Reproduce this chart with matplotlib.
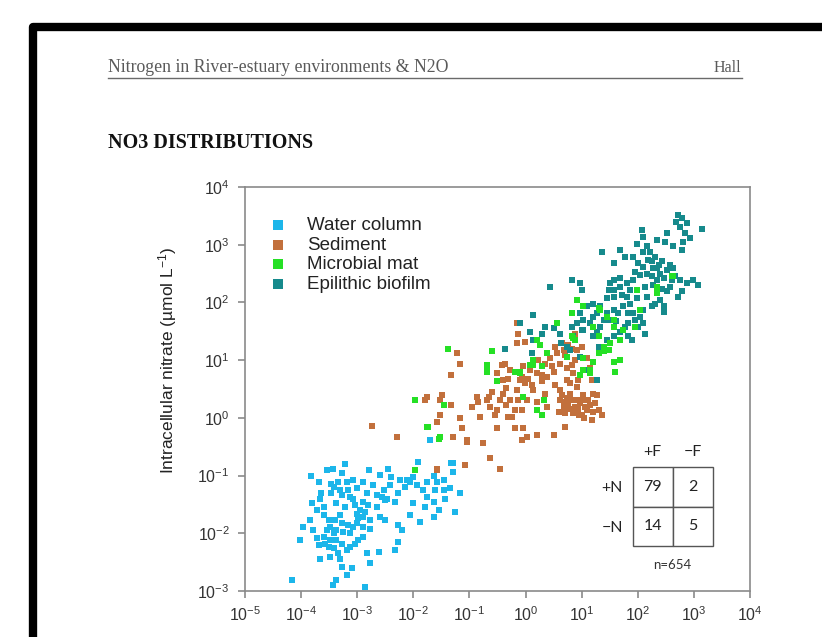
import numpy as np
import matplotlib.pyplot as plt
from matplotlib.patches import Rectangle
from matplotlib.lines import Line2D
from matplotlib.ticker import NullLocator

plt.rcParams['font.family'] = ['Liberation Sans', 'DejaVu Sans']
plt.rcParams['mathtext.default'] = 'regular'

# values, stored as log10 of the axis values
water_logx = [-3.22, -3.43, -3.53, -2.79, -2.46, -3.83, -3.28, -3.07, -2.89, -2.59,
              -2.39, -2.24, -2.12, -1.91, -1.64, -1.46, -1.30, -1.30, -1.17, -3.69,
              -3.46, -3.34, -3.19, -3.01, -2.83, -2.71, -2.56, -2.50, -2.33, -2.06,
              -1.94, -1.82, -1.61, -1.46, -1.35, -3.65, -3.46, -3.31, -3.13, -3.04,
              -2.89, -2.80, -2.65, -2.47, -3.66, -3.37, -3.22, -3.01, -2.89, -2.77,
              -2.59, -2.50, -2.27, -2.21, -2.00, -1.76, -1.79, -1.64, -1.55, -1.43,
              -1.26, -1.64, -2.06, -1.88, -3.84, -3.60, -3.51, -3.40, -3.48, -3.37,
              -3.25, -3.13, -3.01, -2.89, -2.77, -3.78, -3.72, -3.60, -3.48, -3.37,
              -3.28, -3.13, -2.98, -4.02, -3.69, -3.51, -3.34, -3.19, -3.66, -3.48,
              -3.31, -3.28, -3.10, -2.83, -2.62, -2.77, -2.33, -2.27, -3.19, -3.37,
              -3.43, -4.17, -2.86, -3.96, -1.70, -1.32,
              -3.42, -3.28, -3.16, -3.07, -2.95, -2.86, -2.98, -3.07, -3.16, -3.28,
              -3.42, -3.54, -3.57, -3.42, -3.04, -2.89, -2.65, -2.53, -2.41, -2.27,
              -2.15, -2.00, -1.76, -1.58, -3.72, -3.81, -3.60, -3.31]
water_logy = [-0.80, -0.89, -0.90, -0.90, -0.88, -1.01, -0.96, -1.07, -1.11, -0.99,
              -1.02, -1.08, -1.07, -0.76, -1.01, -1.07, -0.79, -0.93, -1.30, -1.12,
              -1.14, -1.11, -1.12, -1.22, -1.31, -1.16, -1.37, -1.42, -1.45, -1.11,
              -1.16, -1.25, -1.25, -1.25, -1.22, -1.31, -1.31, -1.25, -1.37, -1.51,
              -1.45, -1.51, -1.34, -1.40, -1.40, -1.48, -1.54, -1.66, -1.71, -1.77,
              -1.71, -1.77, -1.86, -1.94, -1.48, -1.37, -1.54, -1.45, -1.60, -1.40,
              -1.63, -1.71, -1.68, -1.80, -1.77, -1.68, -1.77, -1.77, -1.89, -1.94,
              -1.97, -2.00, -1.83, -1.89, -1.92, -1.94, -2.09, -2.06, -2.12, -2.12,
              -2.18, -2.23, -2.12, -2.12, -2.20, -2.23, -2.35, -2.29, -2.44, -2.41,
              -2.44, -2.58, -2.61, -2.35, -2.32, -2.52, -2.29, -2.15, -2.72, -2.81,
              -2.90, -2.81, -2.93, -1.89, -0.38, -0.79,
              -1.19, -1.34, -1.25, -1.40, -1.60, -1.63, -1.74, -1.89, -1.86, -1.83,
              -2.00, -1.94, -2.18, -2.26, -2.18, -2.06, -1.54, -1.25, -1.16, -1.31,
              -1.19, -1.02, -1.11, -1.11, -1.60, -1.48, -1.54, -1.68]

sediment_logx = [-2.30, -1.79, -1.49, -1.52, -1.58, -1.32, -1.17, -1.23, -1.32, -1.17,
                 -1.14, -1.29, -1.05, -0.96, -0.87, -0.75, -0.69, -0.63, -0.54, -0.51,
                 -0.63, -0.45, -1.08, -1.58, -0.42, -0.40, -0.34, -0.34, -0.31, -0.25,
                 -0.19, -0.16, -0.10, -0.19, -0.04, -0.07, 0.02, 0.20, -0.07, 0.02,
                 -0.04, -0.16, -0.13, -0.16, -0.01, 0.05, 0.14, 0.20, 0.29, 0.35,
                 0.38, 0.50, 0.38, 0.50, 0.53, 0.62, 0.62, 0.68, 0.70, 0.76,
                 0.82, 0.88, 0.91, 0.97, 1.03, 1.09, 1.15, 0.70, 0.82, 0.70,
                 0.68, 0.82, 0.88, 1.00, 1.09, 1.15, 1.18, 1.21, 1.27, 1.36,
                 1.18, 0.91, 0.85, 0.73, 0.56, 0.47, 0.35, 0.20, 0.08, -0.31,
                 -0.51, -0.40, -0.60, -0.84, -1.52, -1.76, -2.74, -1.58, -1.08, -1.05,
                 1.05, 0.95, 1.20, 0.60, 0.80,
                 0.65, 0.73, 0.79, 0.85, 0.94, 1.00, 1.06, 1.12, 0.79, 0.68,
                 0.59, 1.03, 1.24, 1.30, 0.91, 0.53, 0.65, 0.76, 0.91, 0.44,
                 0.62, 0.73, 0.88, 0.94, 0.79, 0.29, 0.23, -0.37, -0.28, -0.07,
                 -0.01, 0.11, -0.28, -0.13, -0.45, -0.51, -0.66, -0.81]
sediment_logy = [-0.33, 0.31, 0.39, 0.05, -0.07, 0.22, 0.94, 1.12, 0.74, -0.01,
                 -0.18, -0.33, -0.38, 0.19, 0.37, -0.44, 0.31, 0.19, 0.05, -0.18,
                 -0.70, -0.88, -0.82, -0.90, 0.92, 0.66, 0.51, 0.22, 0.02, 0.02,
                 0.14, 0.48, 0.66, -0.18, -0.18, -0.38, -0.33, -0.30, 0.14, 0.31,
                 0.89, 1.64, 1.46, 1.29, 1.32, 0.68, 0.48, 0.28, 0.63, 0.42,
                 0.19, -0.30, 0.71, 0.80, 0.57, 0.48, 0.31, 0.19, 0.08, 0.25,
                 0.31, 0.19, 0.11, 0.25, 0.31, 0.14, 0.22, -0.15, 0.92, 1.09,
                 1.18, 1.20, 1.46, 1.23, 1.03, 0.86, 0.66, 0.42, 0.40, 0.05,
                 -0.04, 0.54, 0.77, 0.66, 1.12, 0.89, 0.94, 0.77, 0.83, 0.68,
                 0.77, 0.42, 0.45, 0.28, 0.31, 0.37, -0.14, -0.89, -0.82, -0.41,
                 0.00, 0.05, 0.10, 0.10, 0.40,
                 0.40, 0.34, 0.16, 0.08, 0.16, 0.05, 0.19, 0.31, 0.42, 0.28,
                 0.11, 0.40, 0.25, 0.14, 0.31, 1.23, 1.29, 1.26, 1.18, 1.03,
                 0.94, 0.86, 1.00, 0.66, 0.60, 0.74, 1.00, 0.94, 0.83, 0.71,
                 0.60, 0.57, 0.31, 0.31, 0.31, 0.14, 0.37, 0.02]

mat_logx = [-1.38, -1.97, -1.46, -1.76, -1.52, -0.60, -0.69, -0.69, -0.51, -0.19,
            -0.10, -0.04, 0.14, 0.14, 0.29, 0.20, 0.32, 0.29, 0.38, 0.56,
            0.73, 0.82, 0.82, 0.88, 1.03, 1.15, 1.21, 1.30, 1.39, 1.48,
            1.57, 1.60, 1.69, 1.74, 1.45, 1.33, 1.03, 0.97, 1.15, 1.30,
            1.57, 1.98, 2.34, 2.61, 1.57, 1.51, 1.48, 1.68, 1.60, 0.91,
            1.03, 0.85, 0.56, 0.20, -0.69, -1.73, -1.55, -0.10, 0.08, 0.26,
            1.21, 1.30, 1.39, 2.04, 1.95, 2.34, 2.63, -1.97]
mat_logy = [1.20, 0.31, 0.22, -0.15, -0.34, 1.15, 0.89, 0.80, 0.63, 0.80,
            0.80, 0.37, 1.00, 0.92, 0.89, 0.14, 0.31, 0.05, 1.12, 1.64,
            1.06, 1.81, 1.41, 1.35, 1.03, 0.83, 0.97, 1.12, 1.15, 1.18,
            0.97, 0.80, 1.35, 1.52, 1.75, 1.87, 0.83, 0.74, 0.77, 1.90,
            1.69, 2.22, 2.27, 2.45, 1.58, 1.29, 1.17, 1.00, 0.80, 2.04,
            1.93, 1.38, 1.64, 1.35, 0.91, -0.15, -0.36, 0.77, 0.91, 1.26,
            1.58, 1.41, 1.23, 1.87, 1.58, 2.16, 2.45, -0.90]

biofilm_logx = [2.72, 2.78, 2.87, 2.75, 2.84, 2.93, 3.14, 2.81, 2.52, 2.49,
                2.07, 2.10, 2.16, 2.22, 2.31, 2.25, 2.37, 2.28, 2.40, 2.46,
                2.58, 2.63, 2.66, 2.75, 2.87, 3.08, 2.78, 2.72, 2.58, 2.52,
                2.34, 2.16, 2.10, 2.01, 1.92, 1.77, 1.68, 1.36, 2.04, 1.92,
                1.80, 1.68, 1.57, 1.51, 1.48, 1.57, 1.68, 1.80, 1.86, 1.74,
                1.92, 2.04, 2.10, 2.01, 1.95, 1.83, 1.77, 1.68, 1.83, 1.89,
                1.51, 1.45, 1.33, 1.21, 1.09, 0.97, 1.03, 1.21, 1.33, 1.27,
                1.15, 0.91, 0.82, 0.82, 0.97, 1.00, 0.44, 0.14, 0.35, 0.50,
                0.61, 0.64, 0.73, 0.08, -0.10, 0.14, 0.29, 1.00, 1.21, 1.30,
                1.45, 1.57, 2.13, 2.40, 2.46, 2.46, 2.31, 2.25, 2.10, 2.43,
                -0.37, 0.11, 1.27, 1.15, 1.09, 0.97, 0.79, 1.62, 1.57,
                2.10, 2.19, 2.34, 2.43, 2.25, 2.52, 2.61, 2.13, 2.28, 1.95,
                1.86, 1.71, 1.98, 2.16, 1.57, 1.45, 1.27, 1.39, 1.65, 1.83,
                1.03, 0.85, 2.69, 2.63, 2.78, 2.99, 2.34, 1.98, 1.57]
biofilm_logy = [3.51, 3.46, 3.37, 3.31, 3.20, 3.11, 3.28, 3.05, 3.20, 3.05,
                3.25, 3.14, 2.97, 2.88, 2.79, 2.71, 2.65, 2.59, 2.50, 2.42,
                2.65, 2.59, 2.45, 2.39, 2.33, 2.30, 2.19, 2.10, 2.27, 2.19,
                2.39, 2.50, 2.62, 2.68, 2.79, 2.79, 2.91, 2.88, 2.47, 2.39,
                2.33, 2.42, 2.39, 2.33, 2.21, 2.10, 2.27, 2.10, 1.98, 1.93,
                1.81, 1.75, 1.64, 1.58, 1.69, 1.81, 1.58, 1.49, 1.41, 1.35,
                1.69, 1.81, 1.93, 1.98, 1.93, 1.81, 1.69, 1.75, 1.58, 1.49,
                1.64, 1.64, 1.58, 2.39, 2.33, 2.21, 2.27, 1.78, 1.58, 1.55,
                1.46, 1.29, 1.23, 1.49, 1.64, 1.35, 1.46, 1.52, 1.41, 1.23,
                1.35, 1.41, 1.46, 2.04, 1.93, 1.84, 1.98, 1.93, 1.87, 2.24,
                1.20, 1.12, 0.65, 0.77, 0.83, 1.06, 1.17, 1.67, 1.87,
                2.88, 2.74, 2.59, 2.71, 2.45, 2.56, 2.39, 2.27, 2.30, 2.53,
                2.21, 2.13, 2.07, 2.10, 2.21, 2.07, 1.81, 1.69, 1.81, 1.64,
                1.52, 1.41, 3.40, 2.97, 2.91, 2.39, 3.08, 3.02, 2.68]

labels = ['Water column', 'Sediment', 'Microbial mat', 'Epilithic biofilm']
colors = ['#1cb6ea', '#c2703c', '#25e025', '#168a8c']

x_ticks = [1e-5, 1e-4, 1e-3, 1e-2, 1e-1, 1e0, 1e1, 1e2, 1e3, 1e4]
y_ticks = [1e-3, 1e-2, 1e-1, 1e0, 1e1, 1e2, 1e3, 1e4]

table_rows = ['+N', '\u2212N']
table_cols = ['+F', '\u2212F']
table_vals = [['79', '2'], ['14', '5']]
n_text = 'n=654'

fig = plt.figure(figsize=(8.22, 6.37), dpi=100)
fig.patch.set_facecolor('white')

# page frame of the screenshot
fig.add_artist(Rectangle((33 / 822, -0.2), 2.0, 1.2 - 27 / 637,
                         transform=fig.transFigure, fill=False,
                         edgecolor='black', linewidth=6, joinstyle='round'))

# page header
fig.text(108 / 822, 1 - 68 / 637, 'Nitrogen in River-estuary environments & N2O',
         family='Liberation Serif', fontsize=12.8, color='#5a5a5a', va='center')
fig.text(741 / 822, 1 - 68 / 637, 'Hall', family='Liberation Serif', fontsize=11.5,
         color='#5a5a5a', va='center', ha='right')
fig.add_artist(Line2D([108 / 822, 742 / 822], [1 - 78 / 637, 1 - 78 / 637],
                      color='#6a6a6a', linewidth=1.0))
fig.text(108 / 822, 1 - 143 / 637, 'NO3 DISTRIBUTIONS', family='Liberation Serif',
         fontsize=14.5, fontweight='bold', color='#111111', va='center')

ax = fig.add_axes([245 / 822, 1 - 591 / 637, 505 / 822, 404 / 637])

groups = [(water_logx, water_logy), (sediment_logx, sediment_logy),
          (mat_logx, mat_logy), (biofilm_logx, biofilm_logy)]
order = [0, 1, 3, 2]
handles = {}
for i in order:
    gx, gy = groups[i]
    handles[i] = ax.scatter(10 ** np.array(gx), 10 ** np.array(gy), marker='s', s=14,
                            color=colors[i], linewidths=0, label=labels[i])

ax.set_xscale('log')
ax.set_yscale('log')
ax.set_xticks(x_ticks)
ax.set_yticks(y_ticks)
ax.xaxis.set_minor_locator(NullLocator())
ax.yaxis.set_minor_locator(NullLocator())
ax.set_xlim(1e-5, 1e4)
ax.set_ylim(1e-3, 1e4)

for sp in ax.spines.values():
    sp.set_color('#8a8a8a')
    sp.set_linewidth(1.2)
ax.tick_params(axis='both', which='major', direction='out', length=5, width=1.2,
               color='#8a8a8a', labelsize=11.5, labelcolor='#333333')
ax.tick_params(axis='x', pad=5)
ax.tick_params(axis='y', pad=6)

ax.set_ylabel('Intracellular nitrate (\u00b5mol L$^{-1}$)', fontsize=12.5,
              color='#222222')
ax.yaxis.set_label_coords(-0.13, 0.572)

leg = ax.legend([handles[i] for i in range(4)], labels, loc='upper left',
                bbox_to_anchor=(0.032, 0.945), frameon=False, fontsize=13.5,
                markerscale=1.8, handletextpad=1.05, labelspacing=0.14,
                handlelength=1.0, borderaxespad=0)
for t in leg.get_texts():
    t.set_color('#222222')

# contingency table inset
tb = ax.table(cellText=table_vals, cellLoc='center',
              bbox=[0.768, 0.111, 0.158, 0.195])
tb.auto_set_font_size(False)
tb.set_fontsize(11.5)
for cell in tb.get_celld().values():
    cell.set_edgecolor('#555555')
    cell.set_linewidth(1.0)
    cell.get_text().set_color('#222222')
    cell.get_text().set_family('Lato')
for j, c in enumerate(table_cols):
    ax.text(0.807 + 0.079 * j, 0.344, c, transform=ax.transAxes,
            ha='center', va='center', fontsize=11.5, family='Lato', color='#222222')
for i, r in enumerate(table_rows):
    ax.text(0.727, 0.255 - 0.099 * i, r, transform=ax.transAxes, ha='center',
            va='center', fontsize=11.5, family='Lato', color='#222222')
ax.text(0.846, 0.064, n_text, transform=ax.transAxes, ha='center', va='center',
        fontsize=9.5, family='Lato', color='#333333')

fig.savefig('out.png', dpi=100)
